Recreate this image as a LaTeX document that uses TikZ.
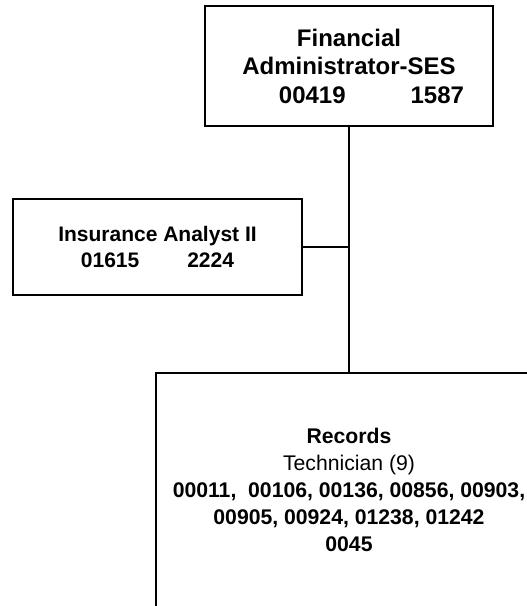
\documentclass[tikz,border=0pt]{standalone}
\usepackage{fontspec}
\setmainfont{Liberation Sans}
\begin{document}
\begin{tikzpicture}[x=1pt,y=-1pt,
  orgbox/.style={draw=black, line width=1.8pt, rectangle, align=center,
    inner sep=0pt, outer sep=0pt, text=black},
  link/.style={draw=black, line width=1.8pt}]
  \useasboundingbox (0,0) rectangle (527,606);
  % head position
  \node[orgbox, minimum width=288pt, minimum height=120pt,
        font=\fontsize{24}{28.5}\selectfont\bfseries] (head) at (349,66)
    {Financial\\Administrator-SES\\\hspace*{45pt}00419\hspace{65pt}1587};
  % staff position beside the line
  \node[orgbox, minimum width=289pt, minimum height=96pt,
        font=\fontsize{21}{26.5}\selectfont\bfseries] (analyst) at (157.5,247)
    {Insurance Analyst II\\01615\hspace{48pt}2224};
  % subordinate unit
  \node[orgbox, minimum width=386pt, minimum height=234pt,
        font=\fontsize{21.2}{27}\selectfont] (records) at (349,490)
    {\textbf{Records}\\Technician (9)\\
     \textbf{00011,\ \ 00106, 00136, 00856, 00903,}\\
     \textbf{00905, 00924, 01238, 01242}\\
     \textbf{0045}};
  % connectors
  \draw[link] (head.south) -- (records.north);
  \coordinate (junction) at (analyst.east -| head.south);
  \draw[link] (analyst.east) -- (junction);
\end{tikzpicture}
\end{document}
